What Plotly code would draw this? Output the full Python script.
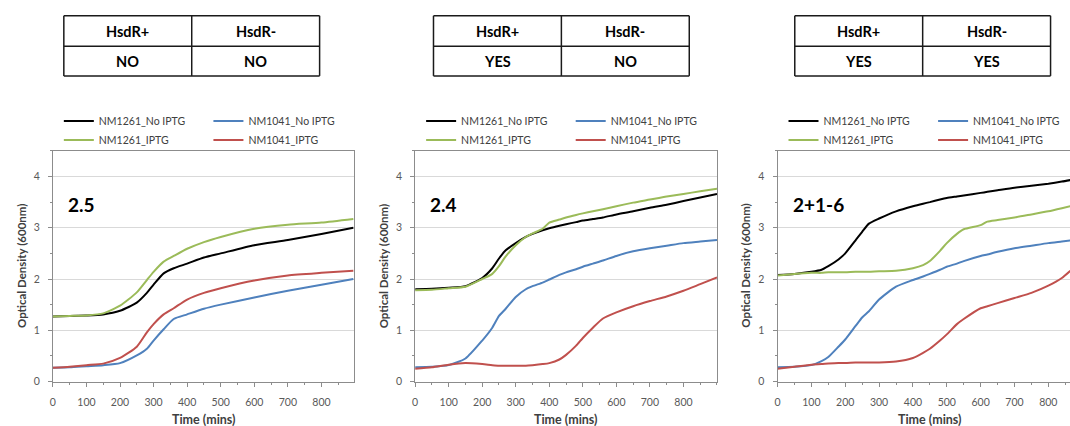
import plotly.graph_objects as go

# ---- growth-curve readings (time in minutes, OD600) ----
# Panel 1: "2.5"
p1_time = [0, 50, 100, 150, 200, 250, 280, 300, 330, 360, 400, 450, 500, 600, 700, 800, 895]
p1_nm1261_noiptg = [1.27, 1.28, 1.29, 1.31, 1.38, 1.54, 1.73, 1.89, 2.11, 2.21, 2.30, 2.42, 2.50, 2.66, 2.76, 2.88, 3.00]
p1_nm1261_iptg = [1.27, 1.28, 1.29, 1.33, 1.48, 1.74, 1.98, 2.14, 2.34, 2.45, 2.59, 2.72, 2.82, 2.98, 3.06, 3.10, 3.17]
p1_nm1041_noiptg = [0.27, 0.28, 0.30, 0.32, 0.36, 0.51, 0.64, 0.80, 1.02, 1.22, 1.31, 1.42, 1.50, 1.64, 1.77, 1.89, 2.00]
p1_nm1041_iptg = [0.27, 0.29, 0.32, 0.35, 0.46, 0.68, 0.96, 1.12, 1.31, 1.43, 1.60, 1.73, 1.82, 1.97, 2.07, 2.12, 2.16]

# Panel 2: "2.4"
p2_time = [0, 50, 100, 150, 200, 230, 250, 270, 300, 330, 350, 380, 400, 430, 450, 480, 500, 530,
           560, 600, 650, 700, 750, 800, 850, 900]
p2_nm1261_noiptg = [1.80, 1.81, 1.83, 1.86, 2.02, 2.21, 2.40, 2.56, 2.70, 2.82, 2.88, 2.95, 2.99, 3.04, 3.07, 3.11,
                    3.14, 3.17, 3.20, 3.26, 3.32, 3.39, 3.45, 3.52, 3.59, 3.66]
p2_nm1261_iptg = [1.78, 1.79, 1.82, 1.85, 2.00, 2.10, 2.25, 2.44, 2.66, 2.82, 2.89, 2.98, 3.10, 3.16, 3.20, 3.25,
                  3.28, 3.32, 3.36, 3.42, 3.49, 3.55, 3.61, 3.66, 3.71, 3.76]
p2_nm1041_noiptg = [0.28, 0.29, 0.32, 0.45, 0.80, 1.05, 1.28, 1.42, 1.65, 1.80, 1.86, 1.93, 1.99, 2.08, 2.13, 2.19,
                    2.24, 2.30, 2.36, 2.45, 2.54, 2.60, 2.65, 2.70, 2.73, 2.76]
p2_nm1041_iptg = [0.25, 0.28, 0.33, 0.36, 0.34, 0.32, 0.31, 0.31, 0.31, 0.31, 0.32, 0.34, 0.36, 0.43, 0.52, 0.70,
                  0.85, 1.05, 1.23, 1.35, 1.47, 1.57, 1.66, 1.77, 1.90, 2.03]

# Panel 3: "2+1-6"
p3_time = [0, 50, 100, 130, 150, 180, 200, 230, 250, 270, 300, 350, 400, 430, 450, 480, 500, 530, 550,
           600, 620, 650, 700, 750, 800, 840, 865]
p3_nm1261_noiptg = [2.08, 2.10, 2.14, 2.18, 2.25, 2.38, 2.50, 2.75, 2.92, 3.08, 3.18, 3.32, 3.42, 3.47, 3.50, 3.55,
                    3.58, 3.61, 3.63, 3.68, 3.70, 3.73, 3.78, 3.82, 3.86, 3.90, 3.93]
p3_nm1261_iptg = [2.07, 2.10, 2.12, 2.12, 2.13, 2.13, 2.13, 2.14, 2.14, 2.14, 2.15, 2.16, 2.21, 2.27, 2.35, 2.55,
                  2.70, 2.88, 2.97, 3.05, 3.12, 3.15, 3.20, 3.26, 3.32, 3.38, 3.42]
p3_nm1041_noiptg = [0.28, 0.29, 0.32, 0.40, 0.48, 0.68, 0.82, 1.08, 1.25, 1.37, 1.60, 1.85, 1.98, 2.05, 2.10, 2.18,
                    2.24, 2.30, 2.35, 2.45, 2.48, 2.53, 2.60, 2.65, 2.70, 2.73, 2.75]
p3_nm1041_iptg = [0.25, 0.29, 0.33, 0.34, 0.35, 0.36, 0.36, 0.37, 0.37, 0.37, 0.37, 0.39, 0.46, 0.56, 0.64, 0.80,
                  0.92, 1.12, 1.22, 1.43, 1.47, 1.53, 1.63, 1.73, 1.87, 2.02, 2.16]

panel_labels = ["2.5", "2.4", "2+1-6"]
series_names = ["NM1261_No IPTG", "NM1261_IPTG", "NM1041_No IPTG", "NM1041_IPTG"]
series_colors = ["#000000", "#9BBB59", "#4F81BD", "#C0504D"]

table_headers = ["HsdR+", "HsdR-"]
table_values = [["NO", "NO"], ["YES", "NO"], ["YES", "YES"]]

x_ticks = [0, 100, 200, 300, 400, 500, 600, 700, 800]
y_ticks = [0, 1, 2, 3, 4]

panels = [
    (p1_time, [p1_nm1261_noiptg, p1_nm1261_iptg, p1_nm1041_noiptg, p1_nm1041_iptg]),
    (p2_time, [p2_nm1261_noiptg, p2_nm1261_iptg, p2_nm1041_noiptg, p2_nm1041_iptg]),
    (p3_time, [p3_nm1261_noiptg, p3_nm1261_iptg, p3_nm1041_noiptg, p3_nm1041_iptg]),
]

W, H = 1070, 426
FONT = "Lato"
AXIS_GREY = "#8c8c8c"
TICK_GREY = "#595959"
TEXT_DARK = "#404040"

# pixel layout of the three plot areas
x_left_px = [50, 413.3, 776.7]
x_right_px = [352, 716, 1070]
x_max = [897, 900, 864]
y_top_px, y_bot_px = 153, 387

fig = go.Figure()

for i, (t, series) in enumerate(panels):
    ax = "" if i == 0 else str(i + 1)
    for j, (name, color, vals) in enumerate(zip(series_names, series_colors, series)):
        leg_idx = 2 * i + (1 if j < 2 else 2)
        leg = "legend" if leg_idx == 1 else f"legend{leg_idx}"
        fig.add_trace(go.Scatter(
            x=t, y=vals, mode="lines", name=name,
            line=dict(color=color, width=2, shape="spline", smoothing=0.6),
            xaxis="x" + ax, yaxis="y" + ax, legend=leg, showlegend=True,
            hoverinfo="skip",
        ))

layout = dict(
    width=W, height=H,
    margin=dict(l=0, r=0, t=0, b=0),
    paper_bgcolor="white", plot_bgcolor="white",
    font=dict(family=FONT, color=TEXT_DARK),
    showlegend=True,
)

shapes = []
annotations = []

for i in range(3):
    ax = "" if i == 0 else str(i + 1)
    dom_x = [x_left_px[i] / W, min(x_right_px[i] / W, 1.0)]
    dom_y = [1 - y_bot_px / H, 1 - y_top_px / H]
    last = (i == 2)
    layout["xaxis" + ax] = dict(
        domain=dom_x, anchor="y" + ax, range=[0, x_max[i]],
        tickvals=x_ticks, ticktext=[str(v) for v in x_ticks],
        showgrid=False, zeroline=False,
        showline=True, linecolor=AXIS_GREY, linewidth=1, mirror=True,
        ticks="outside", ticklen=4, tickcolor=AXIS_GREY,
        minor=dict(dtick=50, tick0=0, ticks="outside", ticklen=2, tickcolor=AXIS_GREY),
        tickfont=dict(family=FONT, size=10.5, color=TICK_GREY),
        ticklabelstandoff=7,
        fixedrange=True,
    )
    layout["yaxis" + ax] = dict(
        domain=dom_y, anchor="x" + ax, range=[0, 4.5],
        tickvals=y_ticks, ticktext=[str(v) for v in y_ticks],
        showgrid=True, gridcolor="#d9d9d9", gridwidth=1, zeroline=False,
        showline=True, linecolor=AXIS_GREY, linewidth=1, mirror=(not last),
        ticks="outside", ticklen=4, tickcolor=AXIS_GREY,
        minor=dict(dtick=0.5, tick0=0, ticks="outside", ticklen=2, tickcolor=AXIS_GREY, showgrid=False),
        tickfont=dict(family=FONT, size=10.5, color=TICK_GREY),
        ticklabelstandoff=6,
        fixedrange=True,
    )

    # legends: two columns per panel
    for c in range(2):
        leg_idx = 2 * i + c + 1
        leg = "legend" if leg_idx == 1 else f"legend{leg_idx}"
        layout[leg] = dict(
            x=(x_left_px[i] + 6 + 150 * c) / W, xanchor="left",
            y=1 - 108 / H, yanchor="top",
            orientation="v", bgcolor="rgba(0,0,0,0)",
            font=dict(family=FONT, size=10.5, color=TEXT_DARK),
            tracegroupgap=0, itemclick=False, itemdoubleclick=False,
        )

    # panel label
    annotations.append(dict(
        text=f"<b>{panel_labels[i]}</b>", xref="x" + ax + " domain", yref="paper",
        x=0, xshift=13, y=1 - 207 / H, xanchor="left", yanchor="middle",
        showarrow=False, font=dict(family=FONT, size=19, color="#000000"),
    ))
    # axis titles
    annotations.append(dict(
        text="<b>Time (mins)</b>", xref="x" + ax, yref="paper",
        x=450, y=1 - 425 / H, xanchor="center", yanchor="middle",
        showarrow=False, font=dict(family=FONT, size=12.5, color=TEXT_DARK),
    ))
    annotations.append(dict(
        text="<b>Optical Density (600nm)</b>", xref="x" + ax + " domain", yref="paper",
        x=0, xshift=-32, y=(dom_y[0] + dom_y[1]) / 2, xanchor="center", yanchor="middle",
        textangle=-90, showarrow=False, font=dict(family=FONT, size=11.5, color=TEXT_DARK),
    ))

# HsdR tables above each panel
table_left_px = [61, 431.7, 794]
table_w_px = 256.5
t_top, t_mid, t_bot = 16, 47, 77
for i in range(3):
    x0 = table_left_px[i] / W
    xm = (table_left_px[i] + table_w_px / 2) / W
    x1 = (table_left_px[i] + table_w_px) / W
    line = dict(color="#1a1a1a", width=1.5)
    for yy in (t_top, t_mid, t_bot):
        shapes.append(dict(type="line", xref="paper", yref="paper", x0=x0, x1=x1,
                           y0=1 - yy / H, y1=1 - yy / H, line=line))
    for xx in (x0, xm, x1):
        shapes.append(dict(type="line", xref="paper", yref="paper", x0=xx, x1=xx,
                           y0=1 - t_top / H, y1=1 - t_bot / H, line=line))
    for c in range(2):
        cx = (table_left_px[i] + table_w_px * (0.25 + 0.5 * c)) / W
        annotations.append(dict(
            text=f"<b>{table_headers[c]}</b>", xref="paper", yref="paper",
            x=cx, y=1 - (t_top + t_mid) / 2 / H, xanchor="center", yanchor="middle",
            showarrow=False, font=dict(family=FONT, size=14.5, color="#000000"),
        ))
        annotations.append(dict(
            text=f"<b>{table_values[i][c]}</b>", xref="paper", yref="paper",
            x=cx, y=1 - (t_mid + t_bot) / 2 / H, xanchor="center", yanchor="middle",
            showarrow=False, font=dict(family=FONT, size=14.5, color="#000000"),
        ))

layout["shapes"] = shapes
layout["annotations"] = annotations
fig.update_layout(**layout)

fig.write_html("out.html", config=dict(displayModeBar=False))
